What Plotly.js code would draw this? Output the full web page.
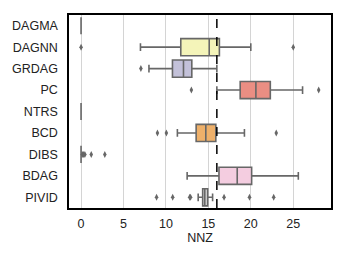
<!DOCTYPE html>
<html>
<head>
<meta charset="utf-8">
<script src="https://cdn.plot.ly/plotly-3.0.1.min.js"></script>
<style>html,body{margin:0;padding:0;background:#fff;}#chart{width:345px;height:259px;}</style>
</head>
<body>
<div id="chart"></div>
<script>
const categories = ['DAGMA','DAGNN','GRDAG','PC','NTRS','BCD','DIBS','BDAG','PIVID'];
const q1 =         [0, 11.75, 10.77, 18.75, 0, 13.56, 0, 16.25, 14.33];
const median =     [0, 15.1,  12.07, 20.6,  0, 14.7,  0, 18.4,  14.58];
const q3 =         [0, 16.3,  13.05, 22.3,  0, 15.88, 0, 20.1,  14.92];
const lowerfence = [0, 7.0,   8.0,   16.0,  0, 11.35, 0, 12.5,  13.8];
const upperfence = [0, 20.0,  16.0,  26.1,  0, 19.25, 0, 25.6,  15.5];
const outliers = {
  DAGMA: [],
  DAGNN: [0, 25],
  GRDAG: [7.05],
  PC: [13, 28],
  NTRS: [],
  BCD: [9, 10.05, 23],
  DIBS: [0.15, 0.3, 0.45, 1.2, 2.8],
  BDAG: [],
  PIVID: [8.9, 10.8, 12.8, 12.9, 16.85, 19.85, 22.7]
};
const fillColors = ['#676767','#f4f4b9','#c3c1d9','#ea8e83','#676767','#eeb06a','#676767','#f4cde0','#d9d9d9'];
const threshold = 16;
const lineColor = '#676767';

const traces = categories.map((c, i) => ({
  type: 'box',
  orientation: 'h',
  y: [c],
  q1: [q1[i]], median: [median[i]], q3: [q3[i]],
  lowerfence: [lowerfence[i]], upperfence: [upperfence[i]],
  fillcolor: fillColors[i],
  line: {color: lineColor, width: 1.6},
  width: 0.8,
  whiskerwidth: 0.45,
  boxpoints: false,
  hoverinfo: 'skip',
  showlegend: false
}));

const ox = [], oy = [];
categories.forEach(c => outliers[c].forEach(v => { ox.push(v); oy.push(c); }));
traces.push({
  type: 'scatter', mode: 'markers', x: ox, y: oy,
  marker: {symbol: 'diamond-tall', size: 5, color: lineColor, line: {width: 0}},
  showlegend: false, hoverinfo: 'skip'
});

const layout = {
  width: 345, height: 259,
  margin: {l: 69, r: 14, t: 15, b: 51},
  paper_bgcolor: '#fff', plot_bgcolor: '#fff',
  font: {family: 'Liberation Sans, Arial, sans-serif', size: 12.5, color: '#222'},
  boxmode: 'overlay',
  showlegend: false,
  xaxis: {
    range: [-1.42, 29.45],
    tickvals: [0, 5, 10, 15, 20, 25],
    showgrid: true, gridcolor: '#d4d4d4', gridwidth: 1,
    zeroline: false,
    showline: true, linecolor: '#000', linewidth: 1.6, mirror: true,
    ticks: '', ticklabelstandoff: 3,
    title: {text: 'NNZ', font: {size: 12.5, color: '#222'}, standoff: 2}
  },
  yaxis: {
    type: 'category',
    categoryorder: 'array', categoryarray: categories,
    range: [8.5, -0.5],
    showgrid: false, zeroline: false,
    showline: true, linecolor: '#000', linewidth: 1.6, mirror: true,
    ticks: '', ticklabelstandoff: 7
  },
  shapes: [{
    type: 'line', xref: 'x', yref: 'paper',
    x0: threshold, x1: threshold, y0: 0, y1: 1,
    line: {color: '#000', width: 1.5, dash: 'dash'}
  }]
};

Plotly.newPlot('chart', traces, layout, {staticPlot: true, displayModeBar: false});
</script>
</body>
</html>
